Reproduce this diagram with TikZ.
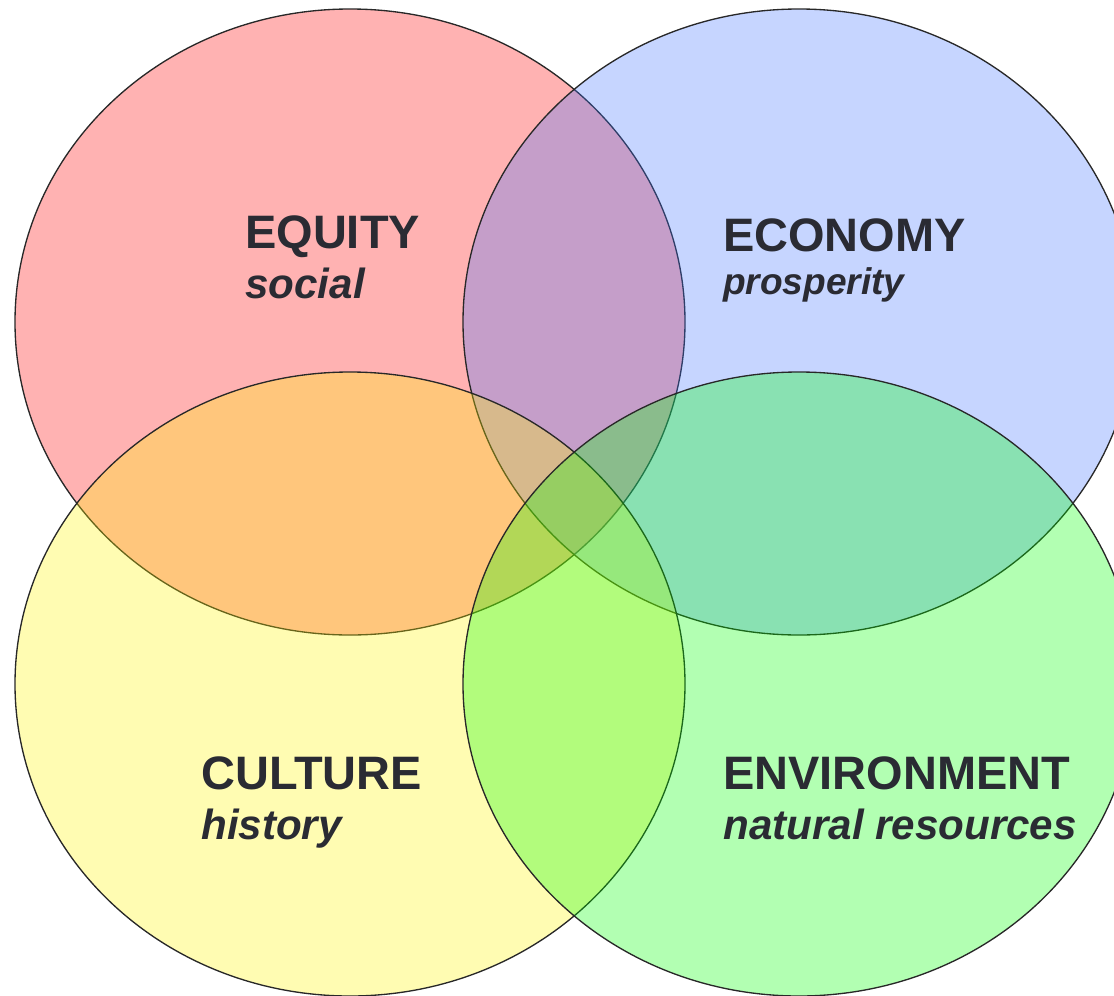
\documentclass[tikz,border=0pt]{standalone}
\usepackage{fontspec}
\setmainfont{Liberation Sans}
\usepackage{xcolor}

\definecolor{eqred}{RGB}{255,0,0}
\definecolor{ecblue}{RGB}{65,115,255}
\definecolor{cuyellow}{RGB}{255,245,0}
\definecolor{engreen}{RGB}{0,255,0}
\definecolor{inkdark}{RGB}{42,43,51}
\definecolor{rimgray}{RGB}{40,40,40}

\tikzset{
  pillar/.style={draw=rimgray, line width=1pt, fill opacity=0.3},
  titletext/.style={anchor=base west, inner sep=0pt, text=inkdark, font=\fontsize{35.2}{40}\selectfont\bfseries},
  subtext/.style={anchor=base west, inner sep=0pt, text=inkdark, font=\fontsize{31.6}{36}\selectfont\bfseries\itshape}
}

\begin{document}
\begin{tikzpicture}[x=0.75pt,y=0.75pt,yscale=-1,xscale=1]
\useasboundingbox (0,0) rectangle (1114,996);

%Shape: Ellipse [equity]
\draw [pillar, fill=eqred] (350,322) ellipse (335 and 313);
%Shape: Ellipse [economy]
\draw [pillar, fill=ecblue] (799,322) ellipse (336 and 313);
%Shape: Ellipse [culture]
\draw [pillar, fill=cuyellow] (350,684) ellipse (335 and 312);
%Shape: Ellipse [environment]
\draw [pillar, fill=engreen] (799,684) ellipse (336 and 312);

% Text Node
\node [titletext] (equity) at (245,248) {EQUITY};
\node [subtext] (social) at (245,298) {social};
% Text Node
\node [titletext] (economy) at (723,251) {ECONOMY};
\node [subtext, font=\fontsize{27.8}{32}\selectfont\bfseries\itshape] (prosperity) at (723,294) {prosperity};
% Text Node
\node [titletext] (culture) at (201,789) {CULTURE};
\node [subtext] (history) at (201,839) {history};
% Text Node
\node [titletext] (environment) at (723,789) {ENVIRONMENT};
\node [subtext] (resources) at (723,839) {natural resources};

\end{tikzpicture}
\end{document}
